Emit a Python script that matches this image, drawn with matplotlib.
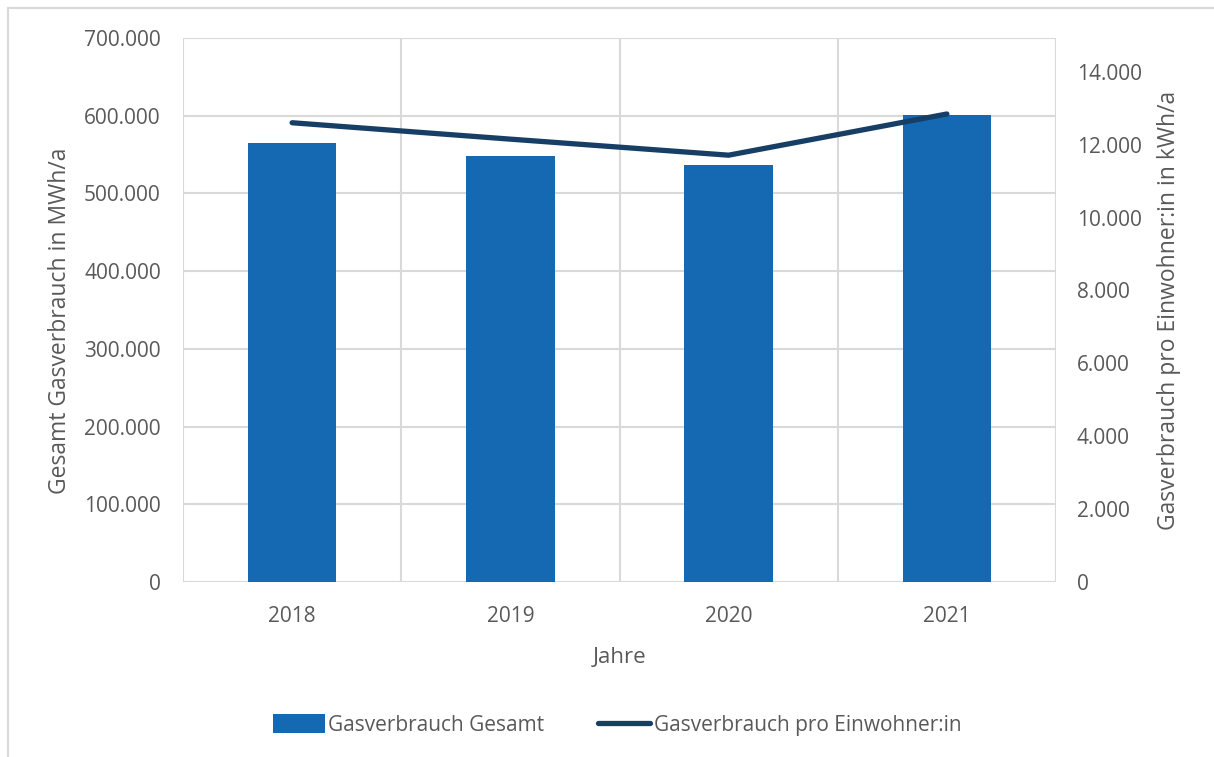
import matplotlib
matplotlib.use("Agg")
import matplotlib.pyplot as plt
from matplotlib.patches import Rectangle
from matplotlib.ticker import FuncFormatter, FixedLocator

years = ["2018", "2019", "2020", "2021"]
gas_total = [565000, 548000, 536000, 601000]          # MWh/a
gas_per_capita = [12600, 12150, 11710, 12840]          # kWh/a

left_ticks = list(range(0, 700001, 100000))
right_ticks = list(range(0, 14001, 2000))

plt.rcParams['font.family'] = ['Open Sans', 'DejaVu Sans']
txt = '#595959'
grid_c = '#d9d9d9'
bar_c = '#1569b3'
line_c = '#173f66'

fig = plt.figure(figsize=(12.14, 7.57), dpi=100)
ax = fig.add_axes([183/1214, 1-582/757, (1056-183)/1214, (582-38)/757])
ax2 = ax.twinx()

x = list(range(len(years)))
bars = ax.bar(x, gas_total, width=0.405, color=bar_c, zorder=3, label='Gasverbrauch Gesamt')
ln, = ax2.plot(x, gas_per_capita, color=line_c, lw=3.8, solid_capstyle='round',
               solid_joinstyle='round', zorder=4, label='Gasverbrauch pro Einwohner:in')

ax.set_xlim(-0.5, len(years)-0.5)
ax.set_ylim(0, 700000)
ax2.set_ylim(0, 14925)
ax.set_yticks(left_ticks)
ax2.set_yticks(right_ticks)
fmt = FuncFormatter(lambda v, p: f"{int(v):,}".replace(",", "."))
ax.yaxis.set_major_formatter(fmt)
ax2.yaxis.set_major_formatter(fmt)
ax.set_xticks(x)
ax.set_xticklabels(years)
ax.xaxis.set_minor_locator(FixedLocator([i - 0.5 for i in range(len(years)+1)]))

ax.grid(axis='y', which='major', color=grid_c, lw=1.5, zorder=0)
ax.grid(axis='x', which='minor', color=grid_c, lw=1.5, zorder=0)
ax.grid(axis='x', which='major', visible=False)

for a in (ax, ax2):
    for s in ('top', 'right', 'left', 'bottom'):
        a.spines[s].set_visible(False)
ax.axhline(0, color=grid_c, lw=2, zorder=2)

ax.tick_params(axis='y', length=0, pad=16, labelsize=15, labelcolor=txt)
ax2.tick_params(axis='y', length=0, pad=15, labelsize=15, labelcolor=txt)
ax.tick_params(axis='x', which='both', length=0, pad=17, labelsize=15, labelcolor=txt)

ax.set_xlabel('Jahre', fontsize=16, color=txt, labelpad=15)
ax.set_ylabel('Gesamt Gasverbrauch in MWh/a', fontsize=16.5, color=txt, labelpad=9)
ax.yaxis.label.set_y(0.48)
ax2.set_ylabel('Gasverbrauch pro Einwohner:in in kWh/a', fontsize=16.5, color=txt, labelpad=11)

leg = fig.legend([bars, ln], ['Gasverbrauch Gesamt', 'Gasverbrauch pro Einwohner:in'],
                 loc='center', bbox_to_anchor=(617/1214, 1-725/757), ncol=2, frameon=False,
                 fontsize=15, labelcolor=txt, handlelength=2.5, handletextpad=0.15,
                 columnspacing=2.6, handleheight=1.0)

fig.patches.append(Rectangle((8/1214, -0.05), 1.1, 1-8/757+0.05, transform=fig.transFigure,
                             fill=False, edgecolor=grid_c, lw=1.5))

fig.savefig('out.png', dpi=100)
